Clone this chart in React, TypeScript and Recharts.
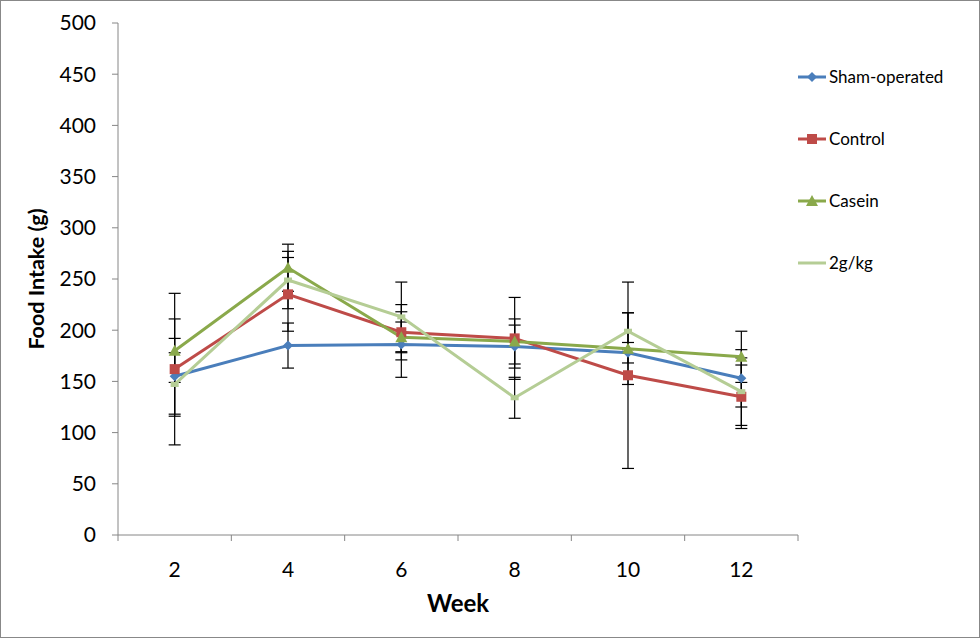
import React from 'react';
import { LineChart, Line, XAxis, YAxis, ErrorBar } from 'recharts';

const weeks = [2, 4, 6, 8, 10, 12];
const sham = [155, 185, 186, 184, 178, 153];
const control = [162, 235, 198, 192, 156, 135];
const casein = [180, 261, 193, 189, 182, 174];
const g2 = [147, 249, 213, 134, 199, 140];

const shamErr = [37, 22, 32, 21, 10, 28];
const controlErr = [74, 36, 27, 40, 91, 31];
const caseinErr = [31, 23, 15, 22, 35, 25];
const g2Err = [31, 28, 34, 20, 18, 33];

const yTicks = [0, 50, 100, 150, 200, 250, 300, 350, 400, 450, 500];
const xTicks = [1, 2, 3, 4, 5, 6, 7, 8, 9, 10, 11, 12, 13];

const data = weeks.map((w, i) => ({
  week: w,
  sham: sham[i],
  control: control[i],
  casein: casein[i],
  g2: g2[i],
  shamErr: shamErr[i],
  controlErr: controlErr[i],
  caseinErr: caseinErr[i],
  g2Err: g2Err[i],
}));

const FONT = 'Lato, "Liberation Sans", sans-serif';
const BLUE = '#4A7EBB';
const RED = '#BE4B48';
const GREEN = '#8AA94B';
const LIGHT = '#B5CD95';

const series = [
  { key: 'sham', name: 'Sham-operated', color: BLUE, shape: 'diamond' },
  { key: 'control', name: 'Control', color: RED, shape: 'square' },
  { key: 'casein', name: 'Casein', color: GREEN, shape: 'triangle' },
  { key: 'g2', name: '2g/kg', color: LIGHT, shape: 'small' },
];

const Marker = ({ cx, cy, shape, color }: any) => {
  if (cx == null || cy == null) return null;
  if (shape === 'diamond')
    return <path d={`M${cx},${cy - 5} L${cx + 5},${cy} L${cx},${cy + 5} L${cx - 5},${cy} Z`} fill={color} />;
  if (shape === 'square') return <rect x={cx - 5} y={cy - 5} width={10} height={10} fill={color} />;
  if (shape === 'triangle')
    return <path d={`M${cx},${cy - 6} L${cx + 6},${cy + 5} L${cx - 6},${cy + 5} Z`} fill={color} />;
  return <rect x={cx - 4} y={cy - 2.5} width={8} height={5} fill={color} />;
};

// odd weeks carry only a tick mark (between categories), even weeks only a label
const XTick = ({ x, y, payload }: any) => {
  const v = payload.value;
  if (v % 2 === 1) return <line x1={x} y1={y} x2={x} y2={y + 6} stroke="#868686" strokeWidth={1} />;
  return (
    <text x={x} y={y + 33} textAnchor="middle" dominantBaseline="central" fontSize={21} fill="#000" fontFamily={FONT}>
      {v}
    </text>
  );
};

const LegendBox = () => (
  <div style={{ position: 'absolute', left: 796, top: 65, fontFamily: FONT, fontSize: 17 }}>
    {series.map((s) => (
      <div key={s.key} style={{ height: 62, display: 'flex', alignItems: 'flex-start' }}>
        <svg width={32} height={16} style={{ marginTop: 3 }}>
          <line x1={1} y1={8} x2={29} y2={8} stroke={s.color} strokeWidth={3} />
          {s.shape !== 'small' && <Marker cx={15} cy={8} shape={s.shape} color={s.color} />}
        </svg>
        <span style={{ lineHeight: '22px', color: '#000' }}>{s.name}</span>
      </div>
    ))}
  </div>
);

export default function App() {
  return (
    <div
      style={{
        position: 'absolute',
        left: 0,
        top: 0,
        width: 980,
        height: 638,
        border: '1px solid #888',
        boxSizing: 'border-box',
        background: '#fff',
      }}
    >
      <LineChart
        width={978}
        height={636}
        data={data}
        margin={{ top: 22, right: 181, bottom: 22, left: 57 }}
      >
        <XAxis
          dataKey="week"
          type="number"
          domain={[1, 13]}
          ticks={xTicks}
          interval={0}
          height={80}
          tickSize={0}
          tickMargin={0}
          tickLine={false}
          axisLine={{ stroke: '#868686' }}
          tick={<XTick />}
          label={{
            value: 'Week',
            position: 'insideBottom',
            offset: 3,
            style: { fontFamily: FONT, fontSize: 24, fontWeight: 700, fill: '#000' },
          }}
        />
        <YAxis
          type="number"
          domain={[0, 500]}
          ticks={yTicks}
          interval={0}
          width={60}
          tickSize={6}
          tickMargin={16}
          axisLine={{ stroke: '#868686' }}
          tickLine={{ stroke: '#868686' }}
          tick={{ fontSize: 21, fill: '#000', fontFamily: FONT }}
          label={{
            value: 'Food Intake (g)',
            angle: -90,
            position: 'left',
            offset: 22,
            style: { fontFamily: FONT, fontSize: 21.5, fontWeight: 700, fill: '#000', textAnchor: 'middle' },
          }}
        />
        {series.map((s) => (
          <Line
            key={`err-${s.key}`}
            dataKey={s.key}
            stroke="none"
            dot={false}
            activeDot={false}
            legendType="none"
            isAnimationActive={false}
          >
            <ErrorBar dataKey={`${s.key}Err`} width={6} strokeWidth={1.2} stroke="#000" direction="y" />
          </Line>
        ))}
        {series.map((s) => (
          <Line
            key={s.key}
            dataKey={s.key}
            name={s.name}
            stroke={s.color}
            strokeWidth={3}
            dot={(p: any) => <Marker key={`${s.key}-${p.index}`} cx={p.cx} cy={p.cy} shape={s.shape} color={s.color} />}
            activeDot={false}
            isAnimationActive={false}
          />
        ))}
      </LineChart>
      <LegendBox />
    </div>
  );
}
